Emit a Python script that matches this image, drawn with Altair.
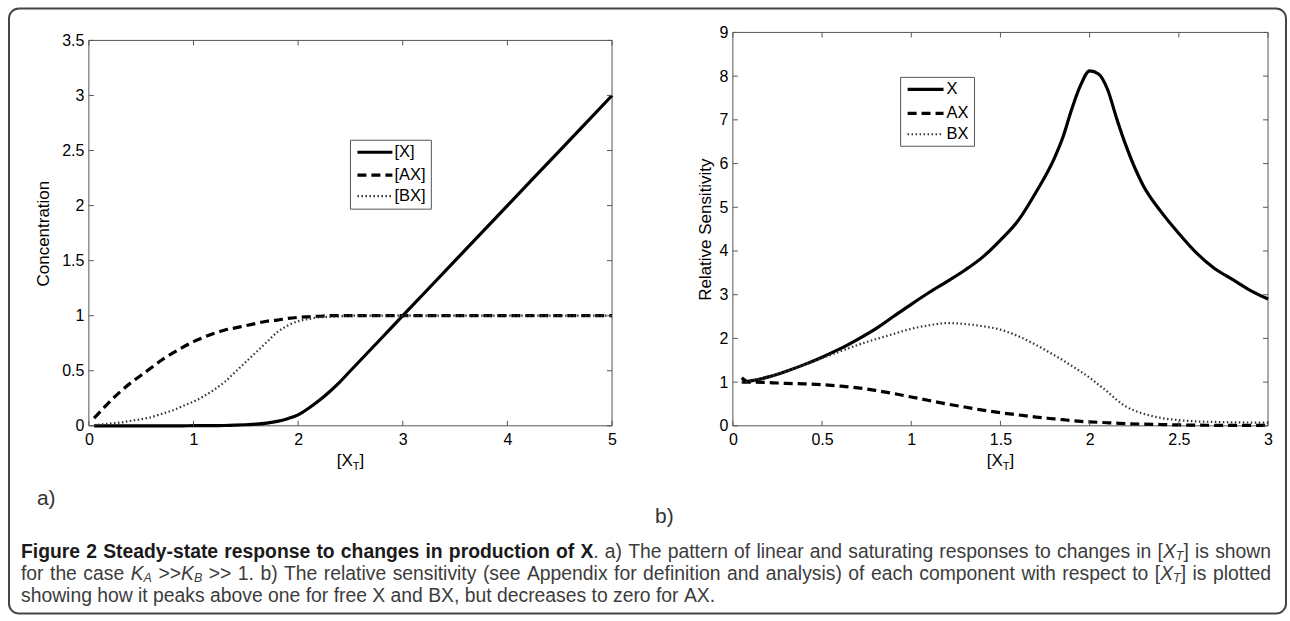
import altair as alt
import pandas as pd

# ---------------- data: panel a) ----------------
xa = [0.05, 0.1, 0.2, 0.3, 0.4, 0.5, 0.6, 0.7, 0.8, 0.9, 1.0, 1.1, 1.2, 1.3, 1.4, 1.5, 1.6,
      1.7, 1.8, 1.9, 2.0, 2.1, 2.2, 2.3, 2.4, 2.5, 2.6, 2.8, 3.0, 3.5, 4.0, 4.5, 5.0]
a_X = [0, 0, 0, 0, 0, 0, 0, 0, 0, 0, 0.001, 0.001, 0.002, 0.003, 0.006, 0.01, 0.015,
       0.025, 0.04, 0.065, 0.1, 0.16, 0.23, 0.31, 0.4, 0.5, 0.6, 0.8, 1.0, 1.5, 2.0, 2.5, 3.0]
a_AX = [0.07, 0.12, 0.22, 0.31, 0.39, 0.46, 0.53, 0.6, 0.66, 0.715, 0.765, 0.805, 0.84, 0.87,
        0.89, 0.91, 0.93, 0.95, 0.96, 0.975, 0.985, 0.99, 0.995, 1.0, 1.0, 1.0, 1.0, 1.0, 1.0,
        1.0, 1.0, 1.0, 1.0]
a_BX = [0.005, 0.01, 0.02, 0.03, 0.045, 0.06, 0.08, 0.11, 0.14, 0.18, 0.22, 0.27, 0.33, 0.4,
        0.49, 0.58, 0.67, 0.76, 0.85, 0.91, 0.95, 0.97, 0.985, 0.99, 0.995, 1.0, 1.0, 1.0, 1.0,
        1.0, 1.0, 1.0, 1.0]
a_names = ["[X]", "[AX]", "[BX]"]
a_xticks = [0, 1, 2, 3, 4, 5]
a_yticks = [0, 0.5, 1, 1.5, 2, 2.5, 3, 3.5]

# ---------------- data: panel b) ----------------
xb = [0.05, 0.08, 0.1, 0.2, 0.3, 0.4, 0.5, 0.6, 0.7, 0.8, 0.9, 1.0, 1.1, 1.2, 1.3, 1.4, 1.5,
      1.6, 1.7, 1.8, 1.85, 1.9, 1.95, 2.0, 2.05, 2.1, 2.15, 2.2, 2.3, 2.4, 2.5, 2.6, 2.7, 2.8,
      2.9, 3.0]
b_X = [1.1, 1.02, 1.03, 1.12, 1.25, 1.4, 1.57, 1.76, 1.98, 2.22, 2.5, 2.78, 3.05, 3.3, 3.56,
       3.86, 4.25, 4.7, 5.35, 6.1, 6.6, 7.25, 7.8, 8.12, 8.05, 7.7, 7.05, 6.45, 5.5, 4.9, 4.4,
       3.95, 3.6, 3.35, 3.1, 2.9]
b_AX = [1.0, 1.0, 1.0, 0.99, 0.97, 0.96, 0.94, 0.91, 0.87, 0.81, 0.74, 0.66, 0.58, 0.5, 0.43,
        0.36, 0.3, 0.25, 0.2, 0.16, 0.14, 0.12, 0.1, 0.09, 0.08, 0.07, 0.06, 0.05, 0.04, 0.03,
        0.02, 0.015, 0.012, 0.01, 0.01, 0.01]
b_BX = [1.0, 1.01, 1.03, 1.12, 1.25, 1.4, 1.55, 1.7, 1.85, 1.98, 2.1, 2.22, 2.3, 2.35, 2.33,
        2.28, 2.2, 2.05, 1.85, 1.62, 1.5, 1.37, 1.24, 1.1, 0.94, 0.78, 0.6, 0.45, 0.28, 0.18,
        0.13, 0.1, 0.09, 0.08, 0.075, 0.07]
b_names = ["X", "AX", "BX"]
b_xticks = [0, 0.5, 1, 1.5, 2, 2.5, 3]
b_yticks = [0, 1, 2, 3, 4, 5, 6, 7, 8, 9]

# ---------------- caption text ----------------
cap_bold = "Figure 2 Steady-state response to changes in production of"
cap_1b = "a) The pattern of linear and saturating responses to changes in"
cap_2a = "for the case"
cap_2b = ">> 1. b) The relative sensitivity (see Appendix for definition and analysis) of each component with respect to"
cap_3 = "showing how it peaks above one for free X and BX, but decreases to zero for AX."

# ---------------- styling / layout ----------------
FONT = "Liberation Sans"
BOX = "#555555"
W_A, W_B, H = 524, 536, 394     # both panels share a 394px tall group
A_TOP = 8                       # panel a) plot box starts 8px lower
OX, OY = 88, 31                 # absolute position of panel a) group origin
GAP = 121                       # gap between the two plot areas
LBL = 16                        # tick label size
TTL = 17                        # axis title size

LINE_STYLES = [
    dict(strokeWidth=3.2, color="black"),
    dict(strokeWidth=3.2, color="black", strokeDash=[9, 5]),
    dict(strokeWidth=2.2, color="#333333", strokeDash=[1.5, 2.5]),
]

one = pd.DataFrame({"k": [0]})


def panel(xs, series, names, xdom, ydom, xticks, yticks, W, top, ytitle, tpad, leg):
    df = pd.DataFrame({"x": xs, "s0": series[0], "s1": series[1], "s2": series[2]})
    xsc = alt.Scale(domain=xdom, nice=False, zero=False)
    ysc = alt.Scale(domain=ydom, nice=False, zero=False, range=[H, top])
    xaxis = alt.Axis(values=xticks, format="~g", title=None, ticks=False, domain=False,
                     grid=False, labelFlush=False, labelPadding=6, labelFontSize=LBL,
                     labelFont=FONT, labelColor="black", labelOverlap=False)
    yaxis = alt.Axis(values=yticks, format="~g", title=ytitle, ticks=False, domain=False,
                     grid=False, labelPadding=5, labelFontSize=LBL, labelFont=FONT,
                     labelColor="black", labelOverlap=False, titleFont=FONT,
                     titleFontSize=TTL, titleFontWeight="normal", titleColor="black",
                     titlePadding=tpad, titleY=(H + top) / 2)
    layers = []
    # plot box
    layers.append(alt.Chart(one).mark_rect(filled=False, stroke=BOX, strokeWidth=1).encode(
        x=alt.value(0), x2=alt.value(W), y=alt.value(top), y2=alt.value(H)))
    for i, st in enumerate(LINE_STYLES):
        layers.append(alt.Chart(df).mark_line(interpolate="monotone", **st).encode(
            x=alt.X("x:Q", scale=xsc, axis=xaxis),
            y=alt.Y(f"s{i}:Q", scale=ysc, axis=yaxis)))
    tx = pd.DataFrame({"tx": xticks})
    ty = pd.DataFrame({"ty": yticks})
    for y0, y1 in [(H, H - 5), (top, top + 5)]:
        layers.append(alt.Chart(tx).mark_rule(color=BOX, strokeWidth=1).encode(
            x=alt.X("tx:Q", scale=xsc, axis=xaxis), y=alt.value(y0), y2=alt.value(y1)))
    for x0, x1 in [(0, 5), (W, W - 5)]:
        layers.append(alt.Chart(ty).mark_rule(color=BOX, strokeWidth=1).encode(
            y=alt.Y("ty:Q", scale=ysc, axis=yaxis), x=alt.value(x0), x2=alt.value(x1)))
    # legend box
    bx0, by0, bx1, by1, lx0, lx1, tx0, rows = leg
    layers.append(alt.Chart(one).mark_rect(fill="white", stroke=BOX, strokeWidth=1).encode(
        x=alt.value(bx0), x2=alt.value(bx1), y=alt.value(by0), y2=alt.value(by1)))
    for i, st in enumerate(LINE_STYLES):
        layers.append(alt.Chart(one).mark_rule(**st).encode(
            x=alt.value(lx0), x2=alt.value(lx1), y=alt.value(rows[i])))
        layers.append(alt.Chart(one).mark_text(
            text=names[i], align="left", baseline="middle", font=FONT, fontSize=16.5,
            color="black").encode(x=alt.value(tx0), y=alt.value(rows[i])))
    return layers


left_layers = panel(xa, [a_X, a_AX, a_BX], a_names, [0, 5], [0, 3.5], a_xticks, a_yticks,
                    W_A, A_TOP, "Concentration", 9,
                    (262, 108, 343, 177, 269, 304, 306, [120, 143, 164]))
right_layers = panel(xb, [b_X, b_AX, b_BX], b_names, [0, 3], [0, 9], b_xticks, b_yticks,
                     W_B, 0, "Relative Sensitivity", 5,
                     (168, 45, 242, 114, 175, 211, 214, [57, 81, 102]))

# ---------------- annotation text (pixel positioned) ----------------
REG = {' ': 278, '(': 333, ')': 333, ',': 278, '-': 333, '.': 278, '>': 584, '[': 278, ']': 278,
       'A': 667, 'B': 667, 'C': 722, 'D': 722, 'E': 667, 'F': 611, 'G': 778, 'H': 722, 'I': 278,
       'J': 500, 'K': 667, 'L': 556, 'M': 833, 'N': 722, 'O': 778, 'P': 667, 'Q': 778, 'R': 722,
       'S': 667, 'T': 611, 'U': 722, 'V': 667, 'W': 944, 'X': 667, 'Y': 667, 'Z': 611,
       'a': 556, 'b': 556, 'c': 500, 'd': 556, 'e': 556, 'f': 278, 'g': 556, 'h': 556, 'i': 222,
       'j': 222, 'k': 500, 'l': 222, 'm': 833, 'n': 556, 'o': 556, 'p': 556, 'q': 556, 'r': 333,
       's': 500, 't': 278, 'u': 556, 'v': 500, 'w': 722, 'x': 500, 'y': 500, 'z': 500}
BOLD = {' ': 278, '-': 333, '.': 278, 'F': 611, 'S': 667, 'X': 667,
        'a': 556, 'b': 611, 'c': 556, 'd': 611, 'e': 556, 'f': 333, 'g': 611, 'h': 611, 'i': 278,
        'j': 278, 'k': 556, 'l': 278, 'm': 889, 'n': 611, 'o': 611, 'p': 611, 'q': 611, 'r': 389,
        's': 556, 't': 333, 'u': 611, 'v': 556, 'w': 778, 'x': 556, 'y': 556, 'z': 500}
for d in "0123456789":
    REG[d] = 556
    BOLD[d] = 556
SUB = 0.65


def pw(t, st, size):
    tab = BOLD if st == "b" else REG
    f = size * (SUB if st == "is" else 1)
    return sum(tab.get(ch, 556) for ch in t) * f / 1000


def words(s, st="r"):
    return [[(w, st)] for w in s.split()]


XT = [("[", "r"), ("X", "i"), ("T", "is"), ("]", "r")]
line1 = words(cap_bold, "b") + [[("X", "b"), (".", "r")]] + words(cap_1b) + [XT] + words("is shown")
line2 = (words(cap_2a) + [[("K", "i"), ("A", "is")], [(">>", "r"), ("K", "i"), ("B", "is")]]
         + words(cap_2b) + [XT] + words("is plotted"))
line3 = words(cap_3)

X0, X1 = 20, 1272


def natural(tokens):
    return sum(pw(t, st, 1) for tok in tokens for t, st in tok) + (len(tokens) - 1) * 0.278


CS = min(725 / natural(line3), 0.985 * (X1 - X0) / natural(line1),
         0.985 * (X1 - X0) / natural(line2))

ann = []


def layout(tokens, y, justify, size):
    widths = [sum(pw(t, st, size) for t, st in tok) for tok in tokens]
    if justify:
        gap = (X1 - X0 - sum(widths)) / (len(tokens) - 1)
    else:
        gap = 0.278 * size
    x = X0
    for tok, w in zip(tokens, widths):
        for t, st in tok:
            ann.append(dict(px=x - OX, py=y - OY + (4 if st == "is" else 0), t=t,
                            fs=size * (SUB if st == "is" else 1),
                            g={"b": "b", "r": "r", "i": "i", "is": "i"}[st],
                            c="#1a1a1a" if st == "b" else "#3c3c3c"))
            x += pw(t, st, size)
        x += gap


layout(line1, 551, True, CS)
layout(line2, 573, True, CS)
layout(line3, 595, False, CS)

# axis titles [X_T]
for cx in [(88 + 612) / 2, (733 + 1269) / 2]:
    w = pw("[X", "r", TTL) + pw("T", "r", 11) + pw("]", "r", TTL)
    x = cx - w / 2
    for t, fs, dy in [("[X", TTL, 0), ("T", 11, 6), ("]", TTL, 0)]:
        ann.append(dict(px=x - OX, py=460 - OY + dy, t=t, fs=fs, g="r", c="black"))
        x += pw(t, "r", fs)
# panel letters
ann.append(dict(px=36 - OX, py=498 - OY, t="a)", fs=21, g="r", c="#333333"))
ann.append(dict(px=655 - OX, py=516 - OY, t="b)", fs=21, g="r", c="#333333"))
ann = pd.DataFrame(ann)

for g, kw in [("r", {}), ("b", {"fontWeight": "bold"}), ("i", {"fontStyle": "italic"})]:
    sub = ann[ann["g"] == g]
    left_layers.append(alt.Chart(sub).mark_text(
        align="left", baseline="middle", font=FONT, **kw).encode(
        x=alt.X("px:Q", scale=None, axis=None), y=alt.Y("py:Q", scale=None, axis=None),
        text="t:N", size=alt.Size("fs:Q", scale=None, legend=None),
        color=alt.Color("c:N", scale=None, legend=None)))

# outer rounded frame
left_layers.insert(0, alt.Chart(one).mark_rect(
    filled=False, stroke="#444444", strokeWidth=2, cornerRadius=10).encode(
    x=alt.value(8 - OX), x2=alt.value(1287 - OX), y=alt.value(7 - OY), y2=alt.value(613 - OY)))

left = alt.layer(*left_layers).properties(width=W_A, height=H)
right = alt.layer(*right_layers).properties(width=W_B, height=H)

chart = alt.hconcat(left, right, spacing=GAP, bounds="flush").properties(
    padding={"left": 7, "top": 6, "right": 2, "bottom": 7}
).configure(background="white").configure_view(stroke="transparent")

chart.save("out.html", embed_options={"renderer": "svg", "actions": False})
